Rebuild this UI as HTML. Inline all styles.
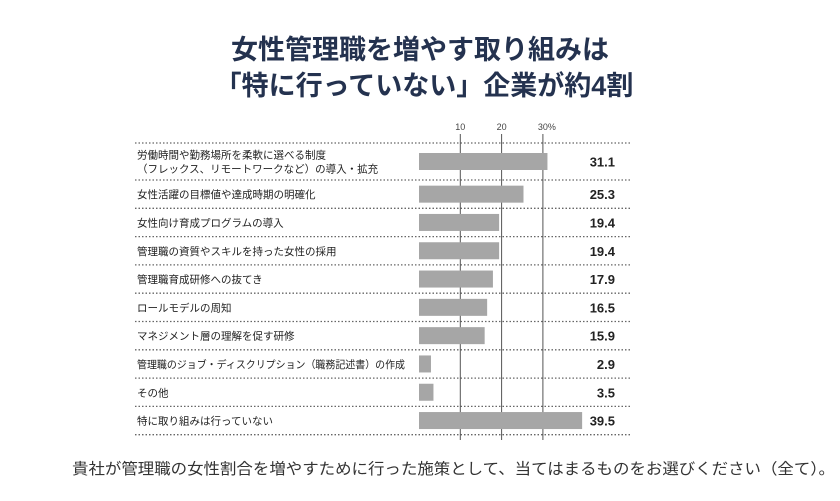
<!DOCTYPE html>
<html><head><meta charset="utf-8"><style>
body{margin:0;background:#fff;width:840px;height:496px;overflow:hidden;font-family:"Liberation Sans","Noto Sans CJK JP",sans-serif}
</style></head><body>
<svg width="840" height="496" id="c">
<text x="420" y="59" text-anchor="middle" font-size="27" font-weight="bold" fill="#24324f">女性管理職を増やす取り組みは</text>
<text x="424" y="95" text-anchor="middle" font-size="27" font-weight="bold" fill="#24324f">「特に行っていない」企業が約4割</text>
<text x="72" y="474" font-size="15.5" fill="#333" textLength="763" lengthAdjust="spacingAndGlyphs">貴社が管理職の女性割合を増やすために行った施策として、当てはまるものをお選びください（全て）。</text>
<g id="g"></g>
</svg>
<script>
const categories=[["労働時間や勤務場所を柔軟に選べる制度","（フレックス、リモートワークなど）の導入・拡充"],["女性活躍の目標値や達成時期の明確化"],["女性向け育成プログラムの導入"],["管理職の資質やスキルを持った女性の採用"],["管理職育成研修への抜てき"],["ロールモデルの周知"],["マネジメント層の理解を促す研修"],["管理職のジョブ・ディスクリプション（職務記述書）の作成"],["その他"],["特に取り組みは行っていない"]];
const values=[31.1,25.3,19.4,19.4,17.9,16.5,15.9,2.9,3.5,39.5];
const ticks=[10,20,30];
const tickLabels=["10","20","30%"];
const g=document.getElementById('g');
const NS="http://www.w3.org/2000/svg";
const x0=419,pp=4.13;
const X=v=>x0+v*pp;
const rowTop=i=>i===0?143:180+(i-1)*28.3;
const rowBot=i=>i===0?180:180+i*28.3;
function mk(t,a){const e=document.createElementNS(NS,t);for(const k in a)e.setAttribute(k,a[k]);g.appendChild(e);return e;}
ticks.forEach((t,i)=>{
const l=mk('line',{x1:X(t),x2:X(t),y1:134,y2:440,stroke:'#555','stroke-width':1});


const tx=mk('text',{x:X(t)+(i===2?4:0),y:130,'text-anchor':'middle','font-size':9,fill:'#444'});
tx.textContent=tickLabels[i];


});
for(let i=0;i<=values.length;i++){
const y=i===0?143:rowBot(i-1);
const l=mk('line',{x1:135,x2:630,y1:y,y2:y,stroke:'#666','stroke-width':1.3,'stroke-dasharray':'1.5 2'});


}
values.forEach((v,i)=>{
const t=rowTop(i),b=rowBot(i),m=(t+b)/2;
const r=mk('rect',{x:x0,y:m-8.5,width:X(v)-x0,height:17,fill:'#a6a6a6'});


const vt=mk('text',{x:615,y:m+5,'text-anchor':'end','font-size':13,'font-weight':'bold',fill:'#222'});
vt.textContent=v.toFixed(1);


const lines=categories[i];
lines.forEach((s,j)=>{
const a={x:137,y:m+4+(j-(lines.length-1)/2)*14,'font-size':10.5,fill:'#222'};
if(s.length>24){a.textLength=268;a.lengthAdjust='spacingAndGlyphs';}
const ct=mk('text',a);
ct.textContent=s;


});
});
</script>
</body></html>
